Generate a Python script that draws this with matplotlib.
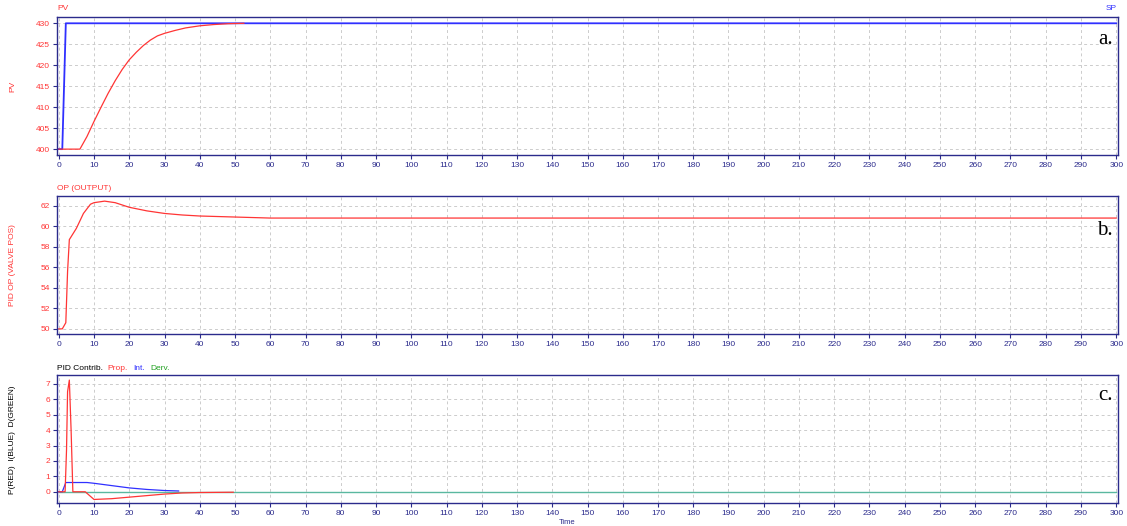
import numpy as np
import matplotlib.pyplot as plt

# process variable and setpoint
t_pv = [0, 6, 8, 10, 12, 14, 16, 18, 20, 22, 24, 26, 28, 30, 33, 36, 40, 44, 48, 52.5]
pv = [400, 400, 403, 406.6, 410, 413.3, 416.3, 419, 421.3, 423.1, 424.7, 426, 427, 427.6,
      428.3, 428.9, 429.4, 429.7, 429.9, 430]
t_sp = [0, 1, 1.5, 2, 300]
sp = [400, 400, 415, 430, 430]

# controller output
t_op = [0, 1, 2, 2.5, 3, 5, 7, 9, 10, 13, 16, 20, 25, 30, 35, 40, 50, 60, 300]
op = [50, 50, 50.6, 55.6, 58.7, 59.8, 61.25, 62.15, 62.3, 62.45, 62.3, 61.85, 61.5, 61.25,
      61.1, 61.0, 60.9, 60.8, 60.8]

# PID contributions
t_p = [0, 1.8, 2.2, 2.5, 3, 3.5, 4, 7.5, 10, 15, 20, 25, 30, 35, 40, 49.5]
p_contrib = [0, 0, 2.7, 6.5, 7.25, 4, 0, 0, -0.5, -0.45, -0.35, -0.25, -0.15, -0.08, -0.05, -0.03]
t_i = [0, 1, 2, 8, 10, 15, 20, 25, 30, 34]
i_contrib = [0, 0, 0.6, 0.6, 0.55, 0.4, 0.25, 0.15, 0.08, 0.05]
t_d = [0, 300]
d_contrib = [0, 0]

plt.rcParams['font.family'] = ['Liberation Sans', 'DejaVu Sans']
navy = '#2b2b8c'
red = '#ff3535'
blue = '#3030ff'
green = '#5ab8a0'
fs = 6
W, H = 1127, 526

fig = plt.figure(figsize=(W / 100, H / 100), dpi=100)

def make_ax(top, bottom, ylim, yticks):
    ax = fig.add_axes([57 / W, 1 - bottom / H, (1118 - 57) / W, (bottom - top) / H])
    ax.set_xlim(-0.5, 300.5)
    ax.set_ylim(*ylim)
    ax.set_xticks(np.arange(0, 301, 10))
    ax.set_yticks(yticks)
    ax.grid(True, linestyle=(0, (3, 3)), color='#cccccc', linewidth=0.7)
    ax.tick_params(axis='x', colors=navy, labelsize=fs, length=3, width=0.8, pad=2)
    ax.tick_params(axis='y', colors=navy, labelcolor=red, labelsize=fs, length=3, width=0.8, pad=2)
    for s in ax.spines.values():
        s.set_color(navy)
        s.set_linewidth(1.0)
    return ax

ax1 = make_ax(17, 155, (398.6, 431.5), np.arange(400, 431, 5))
ax1.plot(t_sp, sp, color=blue, lw=1.3)
ax1.plot(t_pv, pv, color=red, lw=0.9)
fig.text(57 / W, 1 - 9 / H, 'PV', color=red, fontsize=fs, va='center')
fig.text(1117 / W, 1 - 9 / H, 'SP', color=blue, fontsize=fs, va='center', ha='right')
fig.text(13 / W, 1 - 86 / H, 'PV', color=red, fontsize=fs, rotation=90, va='center', ha='center')
fig.text(1113 / W, 1 - 40 / H, 'a.', fontsize=15, family='Liberation Serif', ha='right', va='center')

ax2 = make_ax(196, 334, (49.5, 62.95), np.arange(50, 63, 2))
ax2.plot(t_op, op, color=red, lw=0.9)
fig.text(57 / W, 1 - 189 / H, 'OP (OUTPUT)', color=red, fontsize=fs, va='center')
fig.text(13 / W, 1 - 265 / H, 'PID OP (VALVE POS)', color=red, fontsize=fs, rotation=90,
         va='center', ha='center')
fig.text(1113 / W, 1 - 230 / H, 'b.', fontsize=15, family='Liberation Serif', ha='right', va='center')

ax3 = make_ax(375, 503, (-0.73, 7.58), np.arange(0, 8, 1))
ax3.plot(t_d, d_contrib, color=green, lw=1.0)
ax3.plot(t_i, i_contrib, color=blue, lw=0.9)
ax3.plot(t_p, p_contrib, color=red, lw=0.9)
x0 = 57 / W
y0 = 1 - 368 / H
for txt, col, dx in [('PID Contrib.', 'black', 0), ('Prop.', red, 50), ('Int.', blue, 76),
                     ('Derv.', '#20a020', 93)]:
    fig.text(x0 + dx / W, y0, txt, color=col, fontsize=fs, va='center')
fig.text(13 / W, 1 - 440 / H, 'P(RED)  I(BLUE)  D(GREEN)', color='black', fontsize=fs,
         rotation=90, va='center', ha='center')
fig.text(1113 / W, 1 - 395 / H, 'c.', fontsize=15, family='Liberation Serif', ha='right', va='center')
fig.text(567 / W, 1 - 523 / H, 'Time', color=navy, fontsize=5.5, ha='center', va='center')

fig.savefig('out.png', dpi=100)
